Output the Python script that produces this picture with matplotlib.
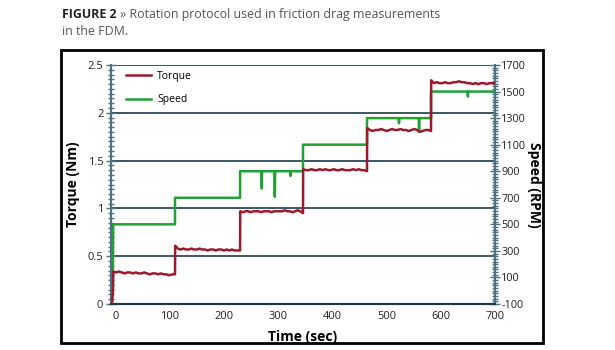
import numpy as np
import matplotlib.pyplot as plt
from matplotlib.patches import Rectangle
from matplotlib.ticker import MultipleLocator

plt.rcParams['font.family'] = ['Open Sans', 'DejaVu Sans']
plt.rcParams['axes.unicode_minus'] = False

# step boundaries of the protocol (sec)
step_times = [-4, 110, 230, 346, 464, 582, 700]
speed_levels = [500, 700, 900, 1100, 1300, 1500]

# short drops in speed: (time, rpm)
speed_dips = [(270, 770), (294, 708), (323, 864), (523, 1262), (560, 1200), (650, 1462)]

# torque read every ~5 s within each step
torque_steps = [
    [0.34, 0.33, 0.34, 0.33, 0.32, 0.33, 0.33, 0.32, 0.33, 0.32, 0.32, 0.33,
     0.32, 0.31, 0.32, 0.32, 0.31, 0.32, 0.31, 0.31, 0.30, 0.31, 0.31],
    [0.61, 0.58, 0.57, 0.58, 0.57, 0.57, 0.58, 0.57, 0.57, 0.58, 0.57, 0.57,
     0.56, 0.57, 0.57, 0.56, 0.57, 0.57, 0.56, 0.57, 0.56, 0.57, 0.56, 0.56, 0.56],
    [0.97, 0.96, 0.97, 0.97, 0.96, 0.97, 0.97, 0.97, 0.96, 0.97, 0.97, 0.97,
     0.96, 0.97, 0.97, 0.97, 0.97, 0.98, 0.97, 0.97, 0.96, 0.97, 0.98, 0.97, 0.95],
    [1.41, 1.40, 1.40, 1.41, 1.40, 1.40, 1.41, 1.40, 1.41, 1.40, 1.40, 1.41,
     1.40, 1.40, 1.41, 1.40, 1.40, 1.40, 1.41, 1.40, 1.41, 1.40, 1.40, 1.39],
    [1.84, 1.82, 1.81, 1.82, 1.82, 1.83, 1.82, 1.81, 1.82, 1.83, 1.82, 1.82,
     1.83, 1.82, 1.82, 1.81, 1.82, 1.83, 1.82, 1.80, 1.81, 1.82, 1.82, 1.81],
    [2.34, 2.31, 2.32, 2.31, 2.31, 2.32, 2.31, 2.31, 2.32, 2.32, 2.33, 2.32,
     2.32, 2.31, 2.31, 2.30, 2.31, 2.30, 2.31, 2.31, 2.30, 2.31, 2.31, 2.31],
]
torque_start = [(-6, 0.0), (-4.5, 0.13)]

x_ticks = [0, 100, 200, 300, 400, 500, 600, 700]
left_ticks = [0, 0.5, 1, 1.5, 2, 2.5]
right_ticks = [-100, 100, 300, 500, 700, 900, 1100, 1300, 1500, 1700]

RED = '#9c1a2e'
GREEN = '#21a132'
AXC = '#4d7280'
GRID = '#1b3a47'

# --- build series ---
t_torque = [p[0] for p in torque_start]
v_torque = [p[1] for p in torque_start]
for i, vals in enumerate(torque_steps):
    t0 = max(step_times[i], -4)
    t1 = step_times[i + 1]
    ts = np.linspace(t0 + 0.3, t1, len(vals))
    t_torque.extend(ts)
    v_torque.extend(vals)

t_speed = [-5, -4]
v_speed = [0, speed_levels[0]]
for i, lvl in enumerate(speed_levels):
    t0, t1 = step_times[i], step_times[i + 1]
    pts = [(t0, lvl)]
    for td, vd in speed_dips:
        if t0 < td < t1:
            pts += [(td - 0.6, lvl), (td, vd), (td + 0.6, lvl)]
    pts.append((t1, lvl))
    t_speed += [p[0] for p in pts]
    v_speed += [p[1] for p in pts]

fig = plt.figure(figsize=(6.15, 3.5), dpi=100)

# title: bold lead-in, then the caption right after it
t1 = fig.text(62 / 615, 1 - 18 / 350, 'FIGURE 2', fontsize=8.9, fontweight='bold',
              color='#222222', va='baseline')
fig.canvas.draw()
bb = t1.get_window_extent()
fig.text((bb.x1 + 4) / 615, 1 - 18 / 350, '» Rotation protocol used in friction drag measurements',
         fontsize=8.9, color='#555555', va='baseline')
fig.text(62 / 615, 1 - 35 / 350, 'in the FDM.', fontsize=8.9, color='#555555', va='baseline')

# frame around the chart
fig.patches.append(Rectangle((61 / 615, 1 - 343 / 350), (543 - 61) / 615, (343 - 50) / 350,
                             transform=fig.transFigure, fill=False, edgecolor='black',
                             linewidth=2))

ax = fig.add_axes([111 / 615, 1 - 304 / 350, 384 / 615, 239 / 350])
ax2 = ax.twinx()

ax.set_xlim(-8, 700)
ax.set_ylim(0, 2.5)
ax2.set_ylim(-100, 1700)

for y in left_ticks[1:]:
    ax.axhline(y, color=GRID, linewidth=1.2, zorder=1)

l2, = ax2.plot(t_speed, v_speed, color=GREEN, linewidth=1.8, label='Speed', zorder=2)
l1, = ax2.plot([], [], color=RED, linewidth=1.8, label='Torque')
ax2.plot(np.array(t_torque), np.array(v_torque) * 720 - 100, color=RED, linewidth=1.8, zorder=3)

ax.set_xticks(x_ticks)
ax.set_yticks(left_ticks)
ax.set_yticklabels(['0', '0.5', '1', '1.5', '2', '2.5'])
ax.yaxis.set_minor_locator(MultipleLocator(0.05))
ax2.set_yticks(right_ticks)
ax2.yaxis.set_minor_locator(MultipleLocator(20))

ax.tick_params(axis='x', length=0, labelsize=8, pad=5, colors='#222222')
ax.tick_params(axis='y', which='major', direction='inout', length=7, width=1,
               color=AXC, labelsize=8, labelcolor='#222222', pad=2)
ax.tick_params(axis='y', which='minor', direction='inout', length=5, width=1, color=AXC)
ax2.tick_params(axis='y', which='major', direction='inout', length=7, width=1,
                color=AXC, labelsize=7.8, labelcolor='#222222', pad=1)
ax2.tick_params(axis='y', which='minor', direction='inout', length=5, width=1, color=AXC)

for a in (ax, ax2):
    a.spines['top'].set_visible(False)
    a.spines['left'].set_color(AXC)
    a.spines['right'].set_color(AXC)
    a.spines['bottom'].set_color(GRID)
    a.spines['left'].set_linewidth(1.5)
    a.spines['right'].set_linewidth(1.5)
    a.spines['bottom'].set_linewidth(1.5)

ax.set_xlabel('Time (sec)', fontsize=10, fontweight='bold')
ax.xaxis.set_label_coords(0.5, -0.11)
ax.set_ylabel('Torque (Nm)', fontsize=10, fontweight='bold')
ax.yaxis.set_label_coords(-0.082, 0.5)
ax2.set_ylabel('Speed (RPM)', fontsize=10, fontweight='bold', rotation=270, va='center')
ax2.yaxis.set_label_coords(1.102, 0.5)

ax2.legend(handles=[l1, l2], loc='upper left', frameon=False, fontsize=7.5,
           bbox_to_anchor=(0.015, 1.015), handlelength=2.4, handletextpad=0.6,
           labelspacing=1.2)

fig.savefig('out.png', dpi=100)
